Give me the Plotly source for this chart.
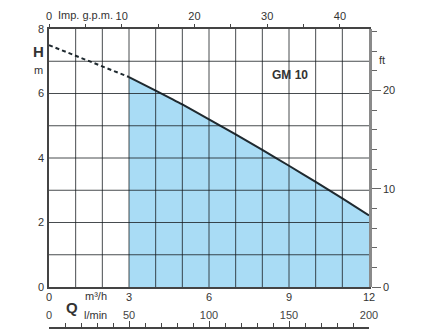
import plotly.graph_objects as go

# ---- data ----
q_dash = [0, 1, 2, 3]
h_dash = [7.5, 7.17, 6.84, 6.51]
q_curve = [3, 4, 5, 6, 7, 8, 9, 10, 11, 12]
h_curve = [6.51, 6.09, 5.66, 5.2, 4.73, 4.25, 3.76, 3.26, 2.75, 2.22]

q_ticks = [0, 3, 6, 9, 12]
h_ticks = [0, 2, 4, 6, 8]
gpm_ticks = [0, 5, 10, 15, 20, 25, 30, 35, 40]
gpm_labels = ["0", "", "10", "", "20", "", "30", "", "40"]
ft_ticks = [0, 10, 20]
lmin_ticks = [0, 50, 100, 150, 200]

Q_MAX, H_MAX = 12, 8
GPM_PER_M3H = 1 / 0.272765
FT_PER_M = 1 / 0.3048
LMIN_PER_M3H = 1000 / 60

FONT = "Liberation Sans, Arial, sans-serif"
TXT = "#333333"
AX = "#444444"

fig = go.Figure()

fig.add_trace(go.Scatter(
    x=q_curve, y=h_curve, mode="lines",
    line=dict(color="#1f2a30", width=2, shape="spline", smoothing=0.6),
    fill="tozeroy", fillcolor="#a9dcf5", hoverinfo="skip", showlegend=False))
fig.add_trace(go.Scatter(
    x=q_dash, y=h_dash, mode="lines",
    line=dict(color="#1f2a30", width=2, dash="4px,3px"),
    hoverinfo="skip", showlegend=False))

# grid lines drawn above the fill
shapes = []
for q in range(1, Q_MAX):
    shapes.append(dict(type="line", xref="x", yref="y", x0=q, x1=q, y0=0, y1=H_MAX,
                       line=dict(color="rgba(20,25,30,0.78)", width=1), layer="above"))
for h in range(1, H_MAX):
    shapes.append(dict(type="line", xref="x", yref="y", x0=0, x1=Q_MAX, y0=h, y1=h,
                       line=dict(color="rgba(20,25,30,0.78)", width=1), layer="above"))

ydom0 = 41 / 299

fig.update_layout(
    width=427, height=336,
    margin=dict(l=49, r=58, t=29, b=8, autoexpand=False),
    paper_bgcolor="white", plot_bgcolor="white",
    font=dict(family=FONT, size=11, color=TXT),
    shapes=shapes,
    xaxis=dict(range=[0, Q_MAX], tickvals=q_ticks, showgrid=False, zeroline=False,
               showline=True, mirror=True, linecolor=AX, linewidth=1.5,
               ticks="", ticklabelstandoff=-1, anchor="y", automargin=False),
    yaxis=dict(range=[0, H_MAX], domain=[ydom0, 1], tickvals=h_ticks, showgrid=False,
               zeroline=False, showline=True, mirror=True, linecolor=AX, linewidth=1.5,
               ticks="", ticklabelstandoff=1, automargin=False),
    xaxis2=dict(range=[0, Q_MAX * GPM_PER_M3H], overlaying="x", side="top", anchor="y",
                tickvals=gpm_ticks, ticktext=gpm_labels, ticks="outside", ticklen=4,
                tickcolor=AX, showgrid=False, zeroline=False, showline=False,
                automargin=False),
    yaxis2=dict(range=[0, H_MAX * FT_PER_M], overlaying="y", side="right", anchor="x",
                tickvals=ft_ticks, ticks="outside", ticklen=9, tickcolor="#666",
                minor=dict(dtick=2, ticks="outside", ticklen=5, tickcolor="#666"),
                showgrid=False, zeroline=False, showline=True, linecolor="#8a8a8a",
                linewidth=2.5, automargin=False),
    xaxis3=dict(range=[0, Q_MAX * LMIN_PER_M3H], overlaying="x", anchor="free", position=0,
                side="bottom", tickvals=lmin_ticks, ticks="inside", ticklen=6, tickcolor=AX,
                ticklabelposition="inside", ticklabeloverflow="allow", ticklabelstandoff=-1,
                minor=dict(dtick=10, ticks="inside", ticklen=4, tickcolor=AX),
                showgrid=False, zeroline=False, showline=True, linecolor=AX, linewidth=1.5,
                automargin=False),
)

# invisible traces to activate the extra axes
fig.add_trace(go.Scatter(x=[0], y=[0], xaxis="x2", yaxis="y", mode="markers",
                         marker=dict(opacity=0), hoverinfo="skip", showlegend=False))
fig.add_trace(go.Scatter(x=[0], y=[0], xaxis="x", yaxis="y2", mode="markers",
                         marker=dict(opacity=0), hoverinfo="skip", showlegend=False))
fig.add_trace(go.Scatter(x=[0], y=[0], xaxis="x3", yaxis="y", mode="markers",
                         marker=dict(opacity=0), hoverinfo="skip", showlegend=False))

ann = [
    dict(text="<b>GM 10</b>", x=9.04, y=6.57, xref="x", yref="y", font=dict(size=12)),
    dict(text="<b>H</b>", x=38, y=52, xref="paper", yref="paper", font=dict(size=15)),
    dict(text="m", x=38, y=70, xref="paper", yref="paper", font=dict(size=11)),
    dict(text="ft", x=382, y=60, xref="paper", yref="paper", font=dict(size=11)),
    dict(text="Imp. g.p.m.", x=85, y=15, xref="paper", yref="paper", font=dict(size=11)),
    dict(text="m³/h", x=96, y=296, xref="paper", yref="paper", font=dict(size=11)),
    dict(text="<b>Q</b>", x=72, y=307, xref="paper", yref="paper", font=dict(size=15)),
    dict(text="l/min", x=95, y=315, xref="paper", yref="paper", font=dict(size=11)),
]
pl, pt, pw, ph = 49, 29, 427 - 49 - 58, 336 - 29 - 8
for a in ann:
    if a["xref"] == "paper":
        a["x"] = (a["x"] - pl) / pw
        a["y"] = 1 - (a["y"] - pt) / ph
    a.update(showarrow=False, xanchor="center", yanchor="middle")
fig.update_layout(annotations=ann)

fig.write_html("out.html")
